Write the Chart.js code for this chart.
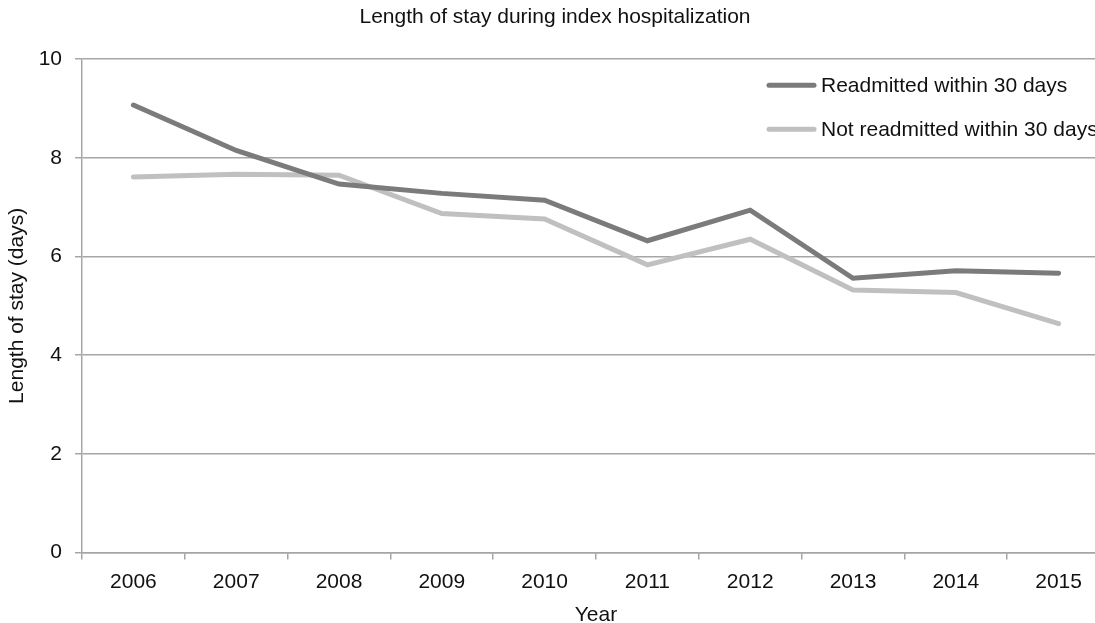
<!DOCTYPE html>
<html>
<head>
<meta charset="utf-8">
<script src="https://cdn.jsdelivr.net/npm/chart.js@4.4.0/dist/chart.umd.min.js"></script>
<style>
  html, body { margin: 0; padding: 0; overflow: hidden; background: #fff; }
  #wrap { width: 1110px; height: 628px; }
</style>
</head>
<body>
<div id="wrap"><canvas id="losChart" width="1110" height="628"></canvas></div>
<script>
// chart data
var years = ['2006', '2007', '2008', '2009', '2010', '2011', '2012', '2013', '2014', '2015'];
var readmitted = [9.07, 8.15, 7.47, 7.28, 7.14, 6.32, 6.94, 5.56, 5.71, 5.66];
var notReadmitted = [7.61, 7.67, 7.65, 6.87, 6.76, 5.83, 6.35, 5.32, 5.27, 4.64];
var seriesNames = ['Readmitted within 30 days', 'Not readmitted within 30 days'];
var yTicks = [0, 2, 4, 6, 8, 10];

(function () {
    var FONT = "'Liberation Sans', Arial, sans-serif";
    var gridGray = '#a6a6a6';
    var textColor = '#111';

    Chart.defaults.font.family = FONT;
    Chart.defaults.font.size = 21;
    Chart.defaults.color = textColor;

    // legend sits inside the plot, top right, like the original
    var insideLegend = {
        id: 'insideLegend',
        afterDatasetsDraw: function (chart) {
            var ctx = chart.ctx,
                area = chart.chartArea,
                x0 = area.left + 687,
                y0 = area.top + 26,
                rowGap = 44;
            ctx.save();
            ctx.font = '21px ' + FONT;
            ctx.textBaseline = 'middle';
            ctx.textAlign = 'left';
            chart.data.datasets.forEach(function (ds, i) {
                var y = y0 + i * rowGap;
                ctx.strokeStyle = ds.borderColor;
                ctx.lineWidth = 5;
                ctx.lineCap = 'round';
                ctx.beginPath();
                ctx.moveTo(x0, y);
                ctx.lineTo(x0 + 45, y);
                ctx.stroke();
                ctx.fillStyle = textColor;
                ctx.fillText(ds.label, x0 + 52, y + 1);
            });
            ctx.restore();
        }
    };

    var ctx = document.getElementById('losChart').getContext('2d');
    new Chart(ctx, {
        type: 'line',
        data: {
            labels: years,
            datasets: [
                {
                    label: seriesNames[0],
                    data: readmitted,
                    borderColor: '#7b7b7b',
                    backgroundColor: '#7b7b7b',
                    borderWidth: 5,
                    borderCapStyle: 'round',
                    borderJoinStyle: 'miter',
                    pointRadius: 0,
                    tension: 0,
                    fill: false
                },
                {
                    label: seriesNames[1],
                    data: notReadmitted,
                    borderColor: '#c0c0c0',
                    backgroundColor: '#c0c0c0',
                    borderWidth: 5,
                    borderCapStyle: 'round',
                    borderJoinStyle: 'miter',
                    pointRadius: 0,
                    tension: 0,
                    fill: false,
                    order: 1
                }
            ]
        },
        options: {
            responsive: false,
            animation: false,
            events: [],
            layout: { padding: { left: 0, right: 0, top: 0, bottom: 0 } },
            plugins: {
                legend: { display: false },
                tooltip: { enabled: false },
                title: {
                    display: true,
                    text: 'Length of stay during index hospitalization',
                    font: { size: 21, weight: 'normal' },
                    color: textColor,
                    padding: { top: 5, bottom: 29 }
                }
            },
            scales: {
                x: {
                    type: 'category',
                    offset: true,
                    afterFit: function (scale) { scale.height = 75.5; },
                    grid: {
                        display: true,
                        offset: true,
                        drawOnChartArea: false,
                        drawTicks: true,
                        tickLength: 7,
                        color: gridGray,
                        lineWidth: 1.5
                    },
                    border: { display: true, color: gridGray, width: 1.5 },
                    ticks: { padding: 10, maxRotation: 0, color: textColor },
                    title: {
                        display: true,
                        text: 'Year',
                        color: textColor,
                        font: { size: 21 },
                        padding: { top: 0, bottom: 0 }
                    }
                },
                y: {
                    min: 0,
                    max: 10,
                    afterFit: function (scale) { scale.width = 82; },
                    afterBuildTicks: function (scale) {
                        scale.ticks = yTicks.map(function (v) { return { value: v }; });
                    },
                    grid: {
                        color: gridGray,
                        lineWidth: 1.5,
                        drawTicks: true,
                        tickLength: 7
                    },
                    border: { display: true, color: gridGray, width: 1.5 },
                    ticks: { padding: 13, color: textColor },
                    title: {
                        display: true,
                        text: 'Length of stay (days)',
                        color: textColor,
                        font: { size: 21 },
                        padding: { top: 5, bottom: 0 }
                    }
                }
            }
        },
        plugins: [insideLegend]
    });
})();
</script>
</body>
</html>
